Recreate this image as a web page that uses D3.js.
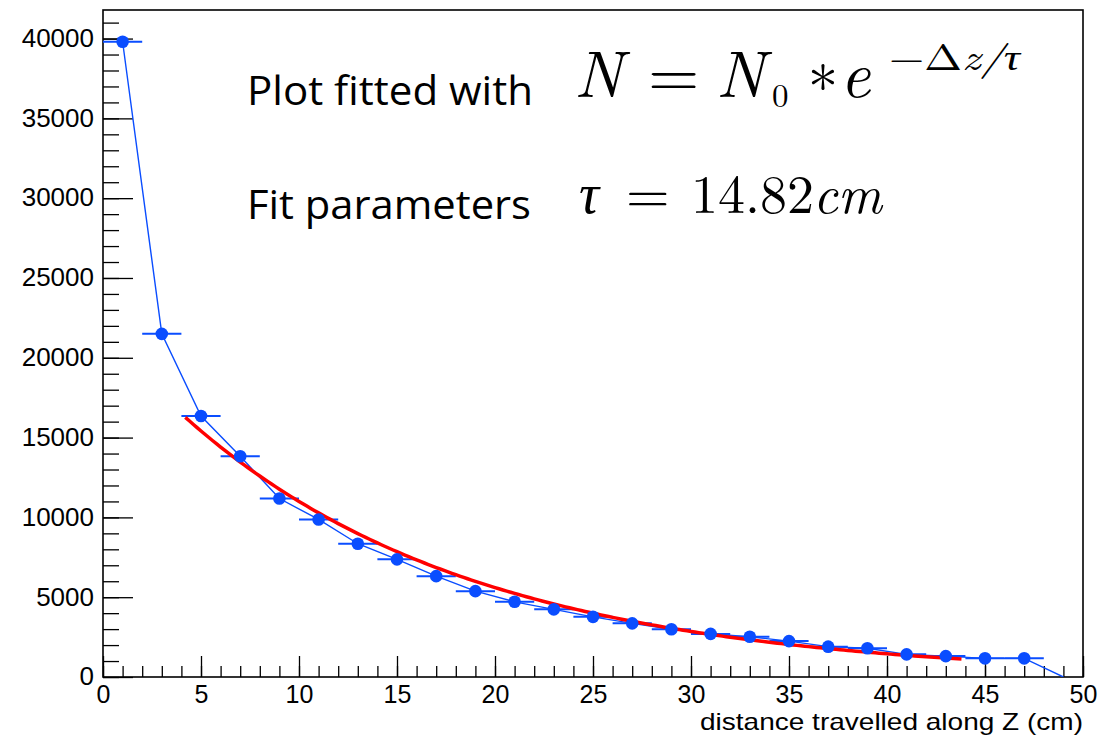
<!DOCTYPE html>
<html>
<head>
<meta charset="utf-8">
<script src="https://cdn.jsdelivr.net/npm/d3@7"></script>
<style>
  html, body { margin: 0; padding: 0; background: #fff; }
  svg { display: block; }
</style>
</head>
<body>
<svg id="chart" width="1101" height="738"></svg>
<script>
// ---- data ----
const binCenters = [1, 3, 5, 7, 9, 11, 13, 15, 17, 19, 21, 23, 25, 27, 29, 31, 33, 35, 37, 39, 41, 43, 45, 47, 49];
const counts = [39800, 21500, 16350, 13830, 11180, 9870, 8350, 7370, 6320, 5380, 4710, 4240, 3770, 3360, 2990, 2700, 2520, 2250, 1900, 1800, 1420, 1310, 1170, 1170, 0];
const binHalfWidth = 1;
const xDomain = [0, 50];
const yDomain = [0, 41790];
const xMajorTicks = [0, 5, 10, 15, 20, 25, 30, 35, 40, 45, 50];
const xMinorTicks = d3.range(0, 51, 1);
const yMajorTicks = [0, 5000, 10000, 15000, 20000, 25000, 30000, 35000, 40000];
const yMinorTicks = d3.range(0, 42000, 1000);
const fitN0 = 21600;
const fitTau = 14.82;
const fitRange = [4.2, 43.8];
const xTitle = "distance travelled along Z (cm)";

// ---- layout ----
const svg = d3.select("#chart");
const mLeft = 103, mRight = 1083, mTop = 10, mBottom = 677;
const x = d3.scaleLinear().domain(xDomain).range([mLeft, mRight]);
const y = d3.scaleLinear().domain(yDomain).range([mBottom, mTop]);
const blue = "#0a4dff";

svg.append("defs").append("clipPath").attr("id", "clip")
  .append("rect").attr("x", mLeft).attr("y", mTop).attr("width", mRight - mLeft).attr("height", mBottom - mTop);

// axes
const axisFont = "'Liberation Sans', Arial, Helvetica, sans-serif";
const gyMinor = svg.append("g").attr("transform", `translate(${mLeft},0)`)
  .call(d3.axisLeft(y).tickValues(yMinorTicks).tickSize(-16).tickFormat(""));
const gy = svg.append("g").attr("transform", `translate(${mLeft},0)`)
  .call(d3.axisLeft(y).tickValues(yMajorTicks).tickSize(-30).tickPadding(9).tickFormat(d3.format("d")));
const gxMinor = svg.append("g").attr("transform", `translate(0,${mBottom})`)
  .call(d3.axisBottom(x).tickValues(xMinorTicks).tickSize(-11).tickFormat(""));
const gx = svg.append("g").attr("transform", `translate(0,${mBottom})`)
  .call(d3.axisBottom(x).tickValues(xMajorTicks).tickSize(-21).tickPadding(9).tickFormat(d3.format("d")));
[gyMinor, gy, gxMinor, gx].forEach(g => {
  g.select(".domain").remove();
  g.selectAll(".tick line").attr("stroke", "#000").attr("stroke-width", 1.3);
  g.selectAll("text").attr("fill", "#000").style("font-family", axisFont).style("font-size", "26px");
});
gy.selectAll("text").attr("dy", "0.3em");
gx.selectAll("text").style("font-size", "25px").attr("dy", "0.68em");

// frame
svg.append("rect").attr("x", mLeft).attr("y", mTop).attr("width", mRight - mLeft).attr("height", mBottom - mTop)
  .attr("fill", "none").attr("stroke", "#000").attr("stroke-width", 1.6);

// x title
svg.append("text").attr("x", mRight).attr("y", 730).attr("text-anchor", "end")
  .style("font-family", axisFont).style("font-size", "24px").attr("fill", "#000")
  .attr("textLength", 383).attr("lengthAdjust", "spacingAndGlyphs")
  .text(xTitle);

const plot = svg.append("g").attr("clip-path", "url(#clip)");
const pts = binCenters.map((c, i) => ({ x: c, y: counts[i] }));

// connecting polyline
plot.append("path").datum(pts)
  .attr("d", d3.line().x(d => x(d.x)).y(d => y(d.y)))
  .attr("fill", "none").attr("stroke", blue).attr("stroke-width", 1.4);

// horizontal error bars
plot.selectAll("line.err").data(pts.filter(d => d.y > 0)).join("line")
  .attr("class", "err")
  .attr("x1", d => x(d.x - binHalfWidth)).attr("x2", d => x(d.x + binHalfWidth))
  .attr("y1", d => y(d.y)).attr("y2", d => y(d.y))
  .attr("stroke", blue).attr("stroke-width", 2);

// fit curve
const fitXs = d3.range(fitRange[0], fitRange[1] + 0.001, 0.2);
plot.append("path").datum(fitXs)
  .attr("d", d3.line().x(d => x(d)).y(d => y(fitN0 * Math.exp(-d / fitTau))))
  .attr("fill", "none").attr("stroke", "#ff0000").attr("stroke-width", 3.5);

// markers
plot.selectAll("circle.pt").data(pts.filter(d => d.y > 0)).join("circle")
  .attr("class", "pt")
  .attr("cx", d => x(d.x)).attr("cy", d => y(d.y)).attr("r", 6.3)
  .attr("fill", blue);

// annotations
const labelFont = "'Open Sans', 'Noto Sans', sans-serif";
svg.append("text").attr("x", 247).attr("y", 105)
  .style("font-family", labelFont).style("font-size", "40px").attr("fill", "#000")
  .attr("textLength", 286).attr("lengthAdjust", "spacingAndGlyphs")
  .text("Plot fitted with");
svg.append("text").attr("x", 247).attr("y", 219)
  .style("font-family", labelFont).style("font-size", "40px").attr("fill", "#000")
  .attr("textLength", 284).attr("lengthAdjust", "spacingAndGlyphs")
  .text("Fit parameters");

const mathFont = "'Latin Modern Roman'";
function mt(xp, yp, size, str, italic, len) {
  const t = svg.append("text").attr("x", xp).attr("y", yp)
    .style("font-family", mathFont).style("font-size", size + "px")
    .style("font-style", italic ? "italic" : "normal").attr("fill", "#000")
    .text(str);
  if (len) t.attr("textLength", len).attr("lengthAdjust", "spacingAndGlyphs");
  return t;
}
// N = N0 * e^{-Δz/τ}
mt(574, 97, 66, "N", true);
mt(648, 97, 66, "=", false);
mt(716, 97, 66, "N", true);
mt(772, 107, 33, "0", false);
mt(808, 109, 60, "*", false);
mt(840, 97, 66, "e", true);
const sup = svg.append("text").attr("x", 889).attr("y", 70)
  .style("font-family", mathFont).style("font-size", "36px").attr("fill", "#000")
  .attr("textLength", 131).attr("lengthAdjust", "spacingAndGlyphs");
sup.append("tspan").text("−Δ");
sup.append("tspan").style("font-style", "italic").text("z/τ");
// τ = 14.82cm
mt(579, 213, 56, "τ", true);
mt(626, 213, 56, "=", false);
mt(691, 213, 54, "14.82", false);
mt(813, 213, 54, "cm", true);
</script>
</body>
</html>
